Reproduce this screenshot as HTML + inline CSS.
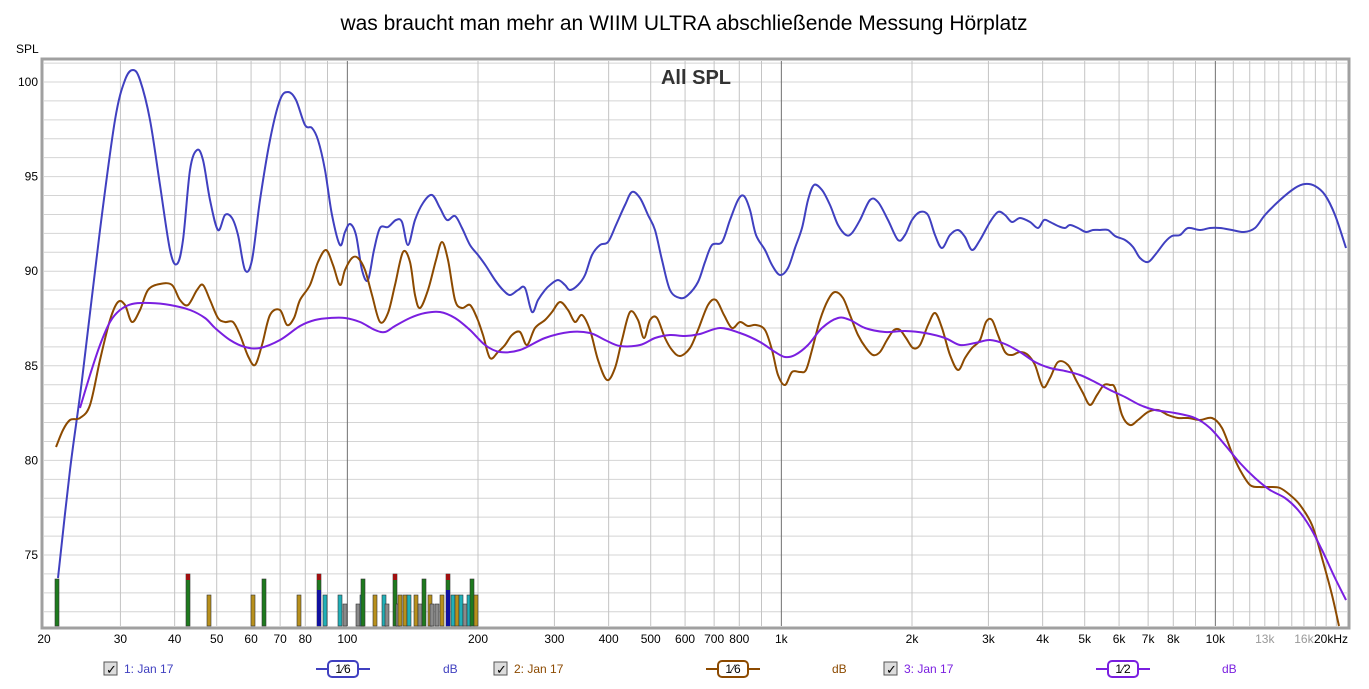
<!DOCTYPE html>
<html><head><meta charset="utf-8"><style>
body{margin:0;background:#fff;width:1369px;height:684px;overflow:hidden;font-family:"Liberation Sans",sans-serif}
</style></head><body>
<svg id="s" width="1369" height="684" xmlns="http://www.w3.org/2000/svg" font-family="Liberation Sans, sans-serif">
<text x="684" y="30" font-size="21" text-anchor="middle" fill="#000">was braucht man mehr an WIIM ULTRA abschließende Messung Hörplatz</text>
<text x="16" y="53" font-size="12" fill="#000">SPL</text>
<rect x="42" y="59" width="1307" height="569" fill="#fff" stroke="#a0a0a0" stroke-width="3"/>
<g id="grid"></g>
<text x="696" y="84" font-size="20" font-weight="bold" fill="#333" text-anchor="middle">All SPL</text>
<g id="bars"></g>
<path id="blue" fill="none" stroke="#4040c0" stroke-width="2"/>
<path id="brown" fill="none" stroke="#8c4a00" stroke-width="2"/>
<path id="purple" fill="none" stroke="#7a1fe0" stroke-width="2"/>
<g id="labels" font-size="12" fill="#000"></g>
<g font-size="12">
<rect x="104" y="662" width="13" height="13" fill="#ddd" stroke="#555"/><text x="106" y="674" font-size="13">✓</text>
<text x="124" y="673" fill="#4040c0">1: Jan 17</text>
<line x1="316" y1="669" x2="370" y2="669" stroke="#4040c0" stroke-width="2"/><rect x="328" y="661" width="30" height="16" rx="4" fill="#fff" stroke="#4040c0" stroke-width="2"/><text x="343" y="673" text-anchor="middle" fill="#000">1⁄6</text>
<text x="443" y="673" fill="#4040c0">dB</text>
<rect x="494" y="662" width="13" height="13" fill="#ddd" stroke="#555"/><text x="496" y="674" font-size="13">✓</text>
<text x="514" y="673" fill="#8c4a00">2: Jan 17</text>
<line x1="706" y1="669" x2="760" y2="669" stroke="#8c4a00" stroke-width="2"/><rect x="718" y="661" width="30" height="16" rx="4" fill="#fff" stroke="#8c4a00" stroke-width="2"/><text x="733" y="673" text-anchor="middle" fill="#000">1⁄6</text>
<text x="832" y="673" fill="#8c4a00">dB</text>
<rect x="884" y="662" width="13" height="13" fill="#ddd" stroke="#555"/><text x="886" y="674" font-size="13">✓</text>
<text x="904" y="673" fill="#7a1fe0">3: Jan 17</text>
<line x1="1096" y1="669" x2="1150" y2="669" stroke="#7a1fe0" stroke-width="2"/><rect x="1108" y="661" width="30" height="16" rx="4" fill="#fff" stroke="#7a1fe0" stroke-width="2"/><text x="1123" y="673" text-anchor="middle" fill="#000">1⁄2</text>
<text x="1222" y="673" fill="#7a1fe0">dB</text>
</g>
</svg>
<script>
var NS="http://www.w3.org/2000/svg";
function X(f){return 44+434*Math.log10(f/20);}
function Y(d){return 82+(100-d)*18.92;}
function el(t,a,p){var e=document.createElementNS(NS,t);for(var k in a)e.setAttribute(k,a[k]);if(p)p.appendChild(e);return e;}
var g=document.getElementById('grid');
for(var d=72;d<=101;d++){el('line',{x1:44,x2:1347,y1:Y(d),y2:Y(d),stroke:'#d4d4d4','stroke-width':1},g);}
var fs=[];
for(var f=30;f<100;f+=10)fs.push(f);
for(f=200;f<1000;f+=100)fs.push(f);
for(f=2000;f<10000;f+=1000)fs.push(f);
for(f=11000;f<20000;f+=1000)fs.push(f);
fs.forEach(function(f){el('line',{x1:X(f),x2:X(f),y1:61,y2:626,stroke:'#c4c4c4'},g);});
[100,1000,10000].forEach(function(f){el('line',{x1:X(f),x2:X(f),y1:61,y2:626,stroke:'#707070'},g);});
var lb=document.getElementById('labels');
[[100,'100'],[95,'95'],[90,'90'],[85,'85'],[80,'80'],[75,'75']].forEach(function(a){var t=el('text',{x:38,y:Y(a[0])+4,'text-anchor':'end'},lb);t.textContent=a[1];});
[[20,'20'],[30,'30'],[40,'40'],[50,'50'],[60,'60'],[70,'70'],[80,'80'],[100,'100'],[200,'200'],[300,'300'],[400,'400'],[500,'500'],[600,'600'],[700,'700'],[800,'800'],[1000,'1k'],[2000,'2k'],[3000,'3k'],[4000,'4k'],[5000,'5k'],[6000,'6k'],[7000,'7k'],[8000,'8k'],[10000,'10k'],[13000,'13k'],[16000,'16k']].forEach(function(a){var t=el('text',{x:X(a[0]),y:643,'text-anchor':'middle',fill:(a[0]==13000||a[0]==16000)?'#999':'#000'},lb);t.textContent=a[1];});
var t=el('text',{x:1331,y:643,'text-anchor':'middle'},lb);t.textContent='20kHz';
// bars
var b=document.getElementById('bars');
function bar(x,top,c){el('rect',{x:x,y:top,width:4,height:626-top,fill:c,stroke:'#333','stroke-width':0.6},b);}
var G='#1e7a1e',O='#b8901c',C='#20b0b8',R='#8a8a8a';
[[55,579,G],[186,574,G],[207,595,O],[251,595,O],[262,579,G],[297,595,O],[317,574,G],[323,595,C],[338,595,C],[343,604,R],[356,604,R],[360,595,C],[361,579,G],[373,595,O],[382,595,C],[385,604,R],[393,574,G],[396,604,R],[398,595,O],[403,595,O],[407,595,C],[414,595,O],[418,604,R],[422,579,G],[428,595,O],[430,604,R],[435,604,R],[440,595,O],[446,574,G],[451,595,C],[455,595,O],[459,595,C],[463,604,R],[467,595,C],[470,579,G],[474,595,O]].forEach(function(a){bar(a[0],a[1],a[2]);});
[[186,574],[317,574],[393,574],[446,574]].forEach(function(a){el('rect',{x:a[0],y:a[1],width:4,height:6,fill:'#a01010'},b);});
[[317,590],[446,590]].forEach(function(a){el('rect',{x:a[0],y:a[1],width:4,height:36,fill:'#1010a0'},b);});
function path(pts){var d='M'+pts[0][0]+','+pts[0][1];for(var i=0;i<pts.length-1;i++){var p0=pts[i-1]||pts[i],p1=pts[i],p2=pts[i+1],p3=pts[i+2]||p2;
d+=' C'+(p1[0]+(p2[0]-p0[0])/6).toFixed(1)+','+(p1[1]+(p2[1]-p0[1])/6).toFixed(1)+' '+(p2[0]-(p3[0]-p1[0])/6).toFixed(1)+','+(p2[1]-(p3[1]-p1[1])/6).toFixed(1)+' '+p2[0]+','+p2[1];}return d;}
var blue=[[58,578],[70,470],[82,380],[100,230],[115,120],[125,80],[133,70],[140,80],[150,120],[160,185],[170,250],[177,264],[183,240],[190,170],[197,150],[203,160],[210,200],[218,230],[225,215],[232,218],[238,235],[245,270],[252,260],[260,200],[270,140],[280,100],[288,92],[296,100],[305,125],[312,128],[318,140],[325,170],[332,215],[340,245],[345,232],[350,224],[356,235],[362,270],[368,280],[374,250],[380,228],[388,227],[396,220],[402,222],[408,245],[415,220],[423,203],[432,195],[440,208],[447,220],[455,216],[462,228],[470,245],[478,255],[486,266],[495,280],[503,290],[510,295],[518,290],[525,288],[532,312],[538,300],[545,290],[550,285],[558,280],[565,285],[570,290],[578,285],[585,275],[592,255],[600,245],[608,242],[616,225],[625,205],[632,192],[640,198],[648,215],[655,230],[662,260],[670,290],[680,298],[688,295],[698,282],[705,262],[712,245],[722,242],[730,220],[738,200],[744,196],[750,210],[756,235],[765,250],[772,265],[780,275],[788,268],[795,248],[802,228],[808,200],[814,185],[822,190],[830,205],[838,225],[846,235],[852,233],[860,220],[870,200],[878,202],[888,220],[898,240],[905,235],[912,220],[920,212],[928,215],[935,235],[942,248],[950,235],[958,230],[965,237],[972,250],[980,240],[990,222],[998,212],[1005,215],[1012,222],[1020,218],[1030,222],[1038,228],[1044,220],[1050,222],[1058,226],[1065,228],[1070,225],[1078,228],[1086,232],[1093,230],[1100,230],[1108,230],[1115,236],[1125,240],[1133,247],[1140,258],[1148,262],[1155,255],[1165,242],[1172,236],[1180,235],[1188,228],[1200,230],[1210,228],[1220,228],[1232,230],[1244,232],[1255,228],[1265,215],[1280,200],[1295,188],[1305,184],[1315,186],[1325,195],[1335,215],[1346,248]];
var brown=[[56,447],[63,430],[70,420],[80,418],[90,405],[100,360],[110,320],[118,302],[125,305],[132,322],[140,310],[148,290],[160,284],[172,285],[180,300],[188,305],[197,290],[203,285],[210,300],[218,318],[225,322],[233,322],[240,335],[248,356],[255,365],[262,345],[270,315],[280,310],[287,325],[294,318],[300,300],[310,285],[318,262],[326,250],[333,265],[340,285],[345,270],[352,258],[358,258],[365,270],[372,295],[380,322],[388,313],[395,285],[403,252],[410,262],[415,295],[420,308],[428,290],[436,260],[442,242],[448,260],[455,300],[462,308],[470,305],[477,318],[483,335],[490,358],[498,352],[505,345],[512,335],[520,332],[527,345],[535,328],[545,320],[552,312],[560,302],[568,310],[575,322],[582,315],[590,330],[598,360],[607,380],[615,368],[622,340],[630,312],[638,320],[644,338],[650,320],[657,318],[665,338],[672,350],[680,356],[690,348],[698,330],[708,305],[716,300],[724,315],[732,328],[740,322],[748,326],[756,325],[765,330],[772,350],[778,375],[785,385],[792,372],[800,372],[806,370],[812,350],[820,320],[828,300],[835,292],[843,298],[850,315],[858,335],[866,348],[873,355],[880,352],[887,340],[894,330],[900,330],[906,338],[913,348],[920,345],[928,325],[935,313],[942,328],[950,355],[958,370],[965,358],[972,348],[980,340],[986,322],[992,320],[998,335],[1005,352],[1012,355],[1020,352],[1028,355],[1035,365],[1043,387],[1050,378],[1058,362],[1068,365],[1076,380],[1083,393],[1090,405],[1097,395],[1104,385],[1110,385],[1115,388],[1122,415],[1130,425],[1138,420],[1148,412],[1158,410],[1168,415],[1178,418],[1188,418],[1200,420],[1212,418],[1222,428],[1232,453],[1240,470],[1250,485],[1260,487],[1270,487],[1280,488],[1290,495],[1300,505],[1312,525],[1322,558],[1332,595],[1339,626]];
var purple=[[80,408],[90,375],[100,345],[110,322],[120,310],[132,304],[150,303],[170,305],[190,310],[205,318],[215,328],[230,340],[245,347],[260,348],[280,340],[300,326],[315,320],[330,318],[345,318],[360,322],[375,330],[385,332],[395,326],[410,318],[425,313],[440,312],[455,318],[470,330],[485,345],[500,352],[520,350],[545,338],[570,332],[590,333],[605,340],[620,346],[640,345],[655,338],[670,335],[685,336],[700,334],[720,328],[740,333],[760,342],[775,352],[785,357],[795,355],[808,345],[822,328],[838,318],[850,320],[865,328],[885,332],[905,331],[925,333],[945,338],[960,345],[975,343],[990,340],[1005,344],[1020,352],[1035,362],[1050,368],[1065,371],[1080,375],[1095,382],[1110,390],[1125,397],[1140,405],[1155,410],[1175,413],[1195,418],[1210,428],[1225,445],[1240,463],[1255,478],[1270,490],[1285,498],[1298,510],[1310,527],[1322,550],[1335,578],[1346,600]];
document.getElementById('blue').setAttribute('d',path(blue));
document.getElementById('brown').setAttribute('d',path(brown));
document.getElementById('purple').setAttribute('d',path(purple));
</script>
</body></html>
